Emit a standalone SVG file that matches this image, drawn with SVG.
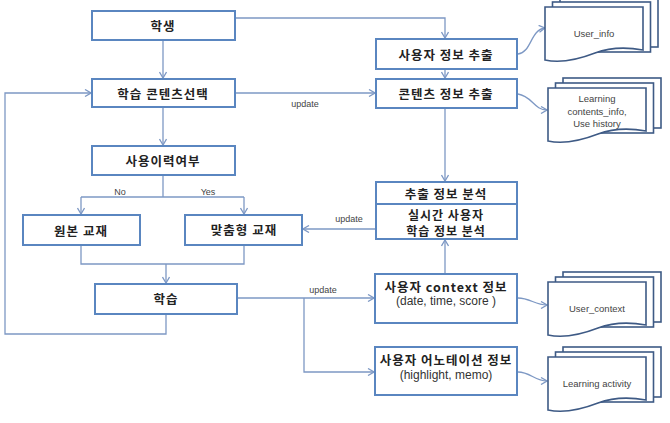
<svg xmlns="http://www.w3.org/2000/svg" width="670" height="423" viewBox="0 0 670 423">
<style>
.box{fill:#fff;stroke:#5a86c0;stroke-width:2}
.ln{fill:none;stroke:#7d98c4;stroke-width:1.3}
.t{font-family:"Noto Sans CJK KR","Noto Sans",sans-serif;font-weight:bold;font-size:12.5px;fill:#222;text-anchor:middle;dominant-baseline:central;letter-spacing:1px}
.t2{font-size:12px}
.s{font-family:"Liberation Sans","Noto Sans CJK KR",sans-serif;font-size:12px;fill:#333;text-anchor:middle;dominant-baseline:central}
.sm{font-family:"Liberation Sans","Noto Sans",sans-serif;font-size:9px;fill:#444;text-anchor:middle;dominant-baseline:central}
.d{font-family:"Liberation Sans","Noto Sans",sans-serif;font-size:9.5px;fill:#444;text-anchor:middle;dominant-baseline:central}
.pg{fill:#fff;stroke:#3e5a85;stroke-width:1.6}
</style>
<defs>
<marker id="ah" markerWidth="8" markerHeight="8" refX="7" refY="4" orient="auto" markerUnits="userSpaceOnUse">
<path d="M1,0.5 L7,4 L1,7.5" fill="none" stroke="#7d98c4" stroke-width="1.3"/>
</marker>
<g id="doc">
<rect class="pg" x="15" y="0" width="98" height="50"/>
<rect class="pg" x="7.5" y="5" width="98" height="50"/>
<path class="pg" d="M0,10 H98 V53 C 82,50 66,50 50,56 C 32,63 14,66 0,63 Z"/>
</g>
</defs>

<g id="connectors">
<path class="ln" d="M163,40 V78" marker-end="url(#ah)"/>
<path class="ln" d="M235,18 H445 V38" marker-end="url(#ah)"/>
<path class="ln" d="M445,69 V78" marker-end="url(#ah)"/>
<path class="ln" d="M235,93 H375" marker-end="url(#ah)"/>
<path class="ln" d="M163,107 V145" marker-end="url(#ah)"/>
<path class="ln" d="M445,108 V181" marker-end="url(#ah)"/>
<path class="ln" d="M163,175 V197"/>
<path class="ln" d="M81,197 H244"/>
<path class="ln" d="M81,197 V214" marker-end="url(#ah)"/>
<path class="ln" d="M244,197 V214" marker-end="url(#ah)"/>
<path class="ln" d="M81,245 V264 H244 V245"/>
<path class="ln" d="M166,264 V283" marker-end="url(#ah)"/>
<path class="ln" d="M166,314 V334 H5 V93 H91" marker-end="url(#ah)"/>
<path class="ln" d="M375,229 H303" marker-end="url(#ah)"/>
<path class="ln" d="M237,298 H374" marker-end="url(#ah)"/>
<path class="ln" d="M304,298 V372 H374" marker-end="url(#ah)"/>
<path class="ln" d="M445,274 V240" marker-end="url(#ah)"/>
<path class="ln" d="M518,54 C 532,52 530,30 545,28" marker-end="url(#ah)"/>
<path class="ln" d="M518,94 C 532,96 534,110 547,110" marker-end="url(#ah)"/>
<path class="ln" d="M518,298 C 530,298 535,305 547,305" marker-end="url(#ah)"/>
<path class="ln" d="M518,372 C 530,372 535,381 547,381" marker-end="url(#ah)"/>
<text class="sm" x="305" y="104">update</text>
<text class="sm" x="349" y="219">update</text>
<text class="sm" x="323" y="290">update</text>
<text class="sm" x="120" y="192">No</text>
<text class="sm" x="208" y="192">Yes</text>
</g>

<g id="n-student"><rect class="box" x="92" y="11" width="143" height="29"/><text class="t" x="163" y="25">학생</text></g>
<g id="n-select"><rect class="box" x="92" y="79" width="143" height="28"/><text class="t" x="163" y="93">학습 콘텐츠선택</text></g>
<g id="n-history"><rect class="box" x="92" y="146" width="143" height="29"/><text class="t" x="163" y="160">사용이력여부</text></g>
<g id="n-original"><rect class="box" x="23" y="215" width="117" height="30"/><text class="t" x="81" y="230">원본 교재</text></g>
<g id="n-custom"><rect class="box" x="185" y="215" width="117" height="30"/><text class="t" x="244" y="229">맞춤형 교재</text></g>
<g id="n-learn"><rect class="box" x="95" y="284" width="142" height="30"/><text class="t" x="166" y="298">학습</text></g>
<g id="n-userinfo"><rect class="box" x="376" y="39" width="141" height="30"/><text class="t" x="446" y="54">사용자 정보 추출</text></g>
<g id="n-contentinfo"><rect class="box" x="376" y="79" width="141" height="29"/><text class="t" x="446" y="93">콘텐츠 정보 추출</text></g>
<g id="n-analysis"><rect class="box" x="376" y="182" width="141" height="57"/><line x1="376" y1="204" x2="517" y2="204" stroke="#5a86c0" stroke-width="2"/><text class="t" x="446" y="193">추출 정보 분석</text><text class="t t2" x="446" y="214">실시간 사용자</text><text class="t t2" x="446" y="230.5">학습 정보 분석</text></g>
<g id="n-context"><rect class="box" x="375" y="274" width="142" height="49"/><text class="t" x="446" y="286">사용자 context 정보</text><text class="s" x="446" y="301">(date, time, score )</text></g>
<g id="n-annot"><rect class="box" x="375" y="347" width="142" height="48"/><text class="t" x="446" y="359">사용자 어노테이션 정보</text><text class="s" x="446" y="375">(highlight, memo)</text></g>

<g id="d-userinfo"><use href="#doc" x="545" y="-3"/><text class="d" x="594" y="33">User_info</text></g>
<g id="d-contents"><use href="#doc" x="548" y="78"/><text class="d" x="597" y="98">Learning</text><text class="d" x="597" y="111">contents_info,</text><text class="d" x="597" y="123">Use history</text></g>
<g id="d-context"><use href="#doc" x="548" y="272"/><text class="d" x="597" y="308">User_context</text></g>
<g id="d-activity"><use href="#doc" x="548" y="347"/><text class="d" x="597" y="383">Learning activity</text></g>
</svg>
